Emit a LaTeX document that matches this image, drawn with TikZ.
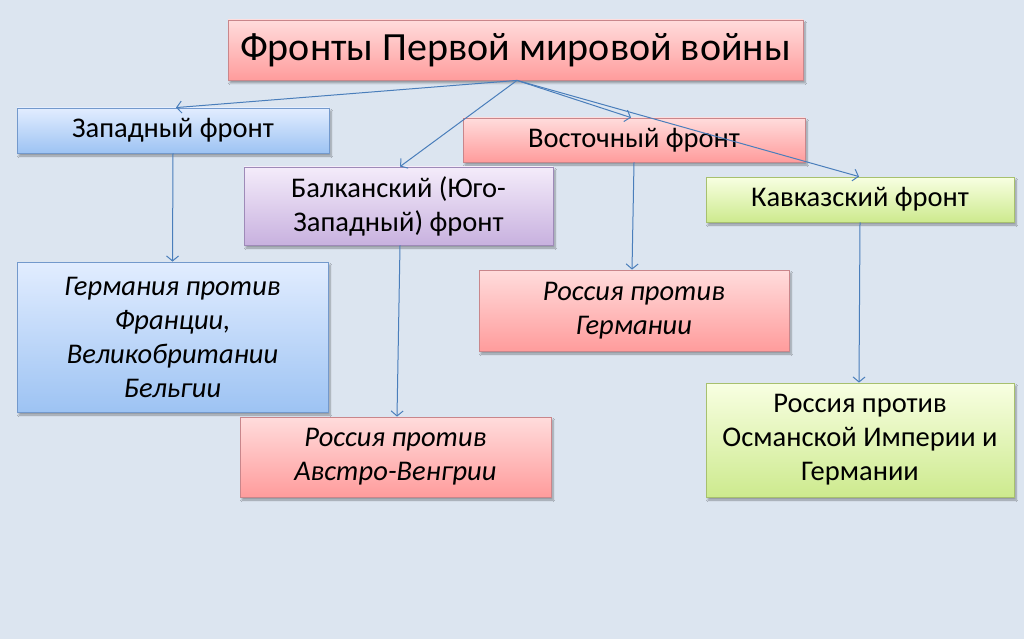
\documentclass[tikz,border=0pt]{standalone}
\usepackage{fontspec}
\setmainfont{Carlito}
\usetikzlibrary{arrows.meta,shadows.blur}
\definecolor{bg}{HTML}{DCE5F0}
\definecolor{lnk}{HTML}{4A7EBB}
\definecolor{pinkT}{HTML}{FFDCDC}
\definecolor{pinkB}{HTML}{FF9C9C}
\definecolor{pinkD}{HTML}{C9868B}
\definecolor{bluT}{HTML}{E2EDFF}
\definecolor{bluB}{HTML}{9DC3F3}
\definecolor{bluD}{HTML}{7399CC}
\definecolor{purT}{HTML}{F4ECFA}
\definecolor{purB}{HTML}{C8B1DF}
\definecolor{purD}{HTML}{9E8AB8}
\definecolor{grnT}{HTML}{F8FFE2}
\definecolor{grnB}{HTML}{CDEA8E}
\definecolor{grnD}{HTML}{A7C06E}
\tikzset{
  box/.style={draw, line width=0.8pt, inner sep=0pt, align=center, shading=axis,
    blur shadow={shadow xshift=2pt, shadow yshift=-3pt, shadow blur steps=6, shadow opacity=35},
    font=\fontsize{28.5}{34}\selectfont},
  pinkbox/.style={box, top color=pinkT, bottom color=pinkB, draw=pinkD},
  bluebox/.style={box, top color=bluT, bottom color=bluB, draw=bluD},
  purbox/.style={box, top color=purT, bottom color=purB, draw=purD},
  grnbox/.style={box, top color=grnT, bottom color=grnB, draw=grnD},
  conn/.style={draw=lnk, line width=1pt, -{Straight Barb[length=5pt,width=12pt,line width=1pt]}}
}
\begin{document}
\begin{tikzpicture}[x=1pt,y=-1pt]
\fill[bg] (0,0) rectangle (1024,639);
\useasboundingbox (0,0) rectangle (1024,639);
\node[pinkbox, minimum width=575pt, minimum height=60pt, font=\fontsize{40}{44}\selectfont] (title) at (515.5,50) {Фронты Первой мировой войны};
\node[bluebox, minimum width=312pt, minimum height=45pt] (west) at (173,130.5) {Западный фронт};
\node[pinkbox, minimum width=342pt, minimum height=44pt] (east) at (634,140) {Восточный фронт};
\node[purbox, minimum width=309pt, minimum height=78pt] (balk) at (398.5,206) {Балканский (Юго-\\Западный) фронт};
\node[grnbox, minimum width=308pt, minimum height=45pt] (cauc) at (860,199.5) {Кавказский фронт};
\node[bluebox, minimum width=311pt, minimum height=150pt] (germ) at (172.5,337) {\itshape Германия против\\\itshape Франции,\\\itshape Великобритании\\\itshape Бельгии};
\node[pinkbox, minimum width=310pt, minimum height=81pt] (rusger) at (634,310.5) {\itshape Россия против\\\itshape Германии};
\node[pinkbox, minimum width=311pt, minimum height=80pt] (austro) at (395.5,457) {\itshape Россия против\\\itshape Австро-Венгрии};
\node[grnbox, minimum width=308pt, minimum height=114pt] (osman) at (860,440) {Россия против\\Османской Империи и\\Германии};
\coordinate (hub) at ([xshift=1.5pt]title.south);
\draw[conn] (hub) -- ([xshift=3pt]west.north);
\draw[conn] (hub) -- ([xshift=1.5pt]balk.north);
\draw[conn] (hub) -- ([xshift=-3pt]east.north);
\draw[conn] (hub) -- ([xshift=-1pt]cauc.north);
\draw[conn] (west.south) -- (germ.north);
\draw[conn] ([xshift=1.5pt]balk.south) -- ([xshift=1.5pt]austro.north);
\draw[conn] (east.south) -- ([xshift=-2pt]rusger.north);
\draw[conn] (cauc.south) -- ([xshift=-1pt]osman.north);
\end{tikzpicture}
\end{document}
